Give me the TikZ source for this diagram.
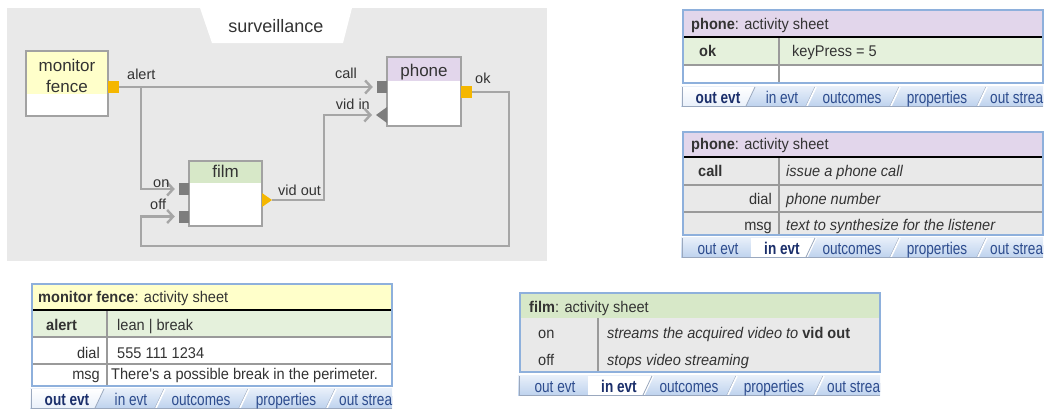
\documentclass[tikz,border=0pt]{standalone}
\usepackage{fontspec}
\setmainfont{Liberation Sans}
\newfontfamily\sheetfont[FakeStretch=0.94]{Liberation Sans}
\newfontfamily\tabfont[FakeStretch=0.8]{Liberation Sans}
\usetikzlibrary{arrows.meta}

\definecolor{panelgray}{HTML}{E9E9E9}
\definecolor{boxgray}{HTML}{A2A2A2}
\definecolor{wiregray}{HTML}{A6A6A6}
\definecolor{portgray}{HTML}{7D7D7D}
\definecolor{portorange}{HTML}{F5B700}
\definecolor{hdryellow}{HTML}{FFFFCA}
\definecolor{hdrpurple}{HTML}{E2D6EB}
\definecolor{hdrgreen}{HTML}{D7E8C8}
\definecolor{rowgreen}{HTML}{E5F1DC}
\definecolor{rowgray}{HTML}{E9E9E9}
\definecolor{sheetblue}{HTML}{8EB0DC}
\definecolor{gridgray}{HTML}{9A9A9A}
\definecolor{tabtop}{HTML}{E9F0FA}
\definecolor{tabbot}{HTML}{BFD3EE}
\definecolor{tabedgecol}{HTML}{9AA8BE}
\definecolor{tabtext}{HTML}{2D4C8E}
\definecolor{tabtextactive}{HTML}{1B2F6B}
\definecolor{textdark}{HTML}{333333}

\tikzset{
  comp/.style 2 args={draw=boxgray, line width=2, fill=white, inner sep=0,
    path picture={\fill[#1] (path picture bounding box.north west)
      rectangle ([yshift=-#2]path picture bounding box.north east);}},
  ctitle/.style={inner sep=0, anchor=base, text=textdark, font=\fontsize{17}{19}\selectfont},
  lbl/.style={inner sep=0, text=textdark, font=\fontsize{14.5}{16}\selectfont},
  port/.style={inner sep=0, draw=none, minimum width=10, minimum height=12},
  inport/.style={port, fill=portgray},
  outport/.style={port, fill=portorange},
  wire/.style={draw=wiregray, line width=2.4, -{Straight Barb[length=6pt,width=13pt]}, shorten >=4pt},
  tapline/.style={draw=wiregray, line width=2.4},
  sheettext/.style={inner sep=0, anchor=base west, text=textdark, font=\sheetfont\fontsize{15.5}{17}\selectfont},
  sheetright/.style={sheettext, anchor=base east},
  sheetframe/.style={draw=sheetblue, line width=2.5},
  gridline/.style={draw=gridgray, line width=1.2},
  hdrline/.style={draw=black, line width=1.5},
  tabtxt/.style={inner sep=0, anchor=base, text=tabtext, font=\tabfont\fontsize{17}{19}\selectfont},
  tabon/.style={tabtxt, text=tabtextactive, font=\tabfont\bfseries\fontsize{17}{19}\selectfont},
  taboff/.style={tabtxt},
  tabsep/.style={draw=white, line width=1.6},
  tabsepdark/.style={draw=tabedgecol, line width=0.8},
  tabedge/.style={draw=tabedgecol, line width=1}
}

% tab strip under an activity sheet: #1 name prefix, #2 left x, #3 top y, #4 active tab
\newcommand\sheettabs[4]{%
  \begin{scope}[shift={(#2,#3)}]
    \ifnum#4=1
      \tikzset{tabfirst/.style={tabon}, tabsecond/.style={taboff}}
    \else
      \tikzset{tabfirst/.style={taboff}, tabsecond/.style={tabon}}
    \fi
    \begin{scope}
      \clip (-3,-1) rectangle (360,22);
      \shade[top color=tabtop, bottom color=tabbot] (-2,0) rectangle (362,20);
      \foreach \s in {128,212,299}{
        \draw[tabsepdark] (\s-5,20) -- (\s+4,1);
        \draw[tabsep] (\s-4,20) -- (\s+5,1);
      }
      \ifnum#4=1
        \shade[top color=white, bottom color=tabtop] (-2,20) -- (-2,1) -- (72,1) -- (63,20) -- cycle;
        \draw[tabsepdark] (63,20) -- (72,1);
      \else
        \draw[tabsepdark] (68,20) -- (68,1);
        \fill[white] (68,20) -- (68,1) -- (132,1) -- (123,20) -- cycle;
        \draw[tabsepdark] (123,20) -- (132,1);
      \fi
      \draw[tabedge] (-1,1) -- (-1,20) -- (360,20);
      \node[tabfirst] (#1-tab1) at (35,17) {out evt};
      \node[tabsecond] (#1-tab2) at (99,17) {in evt};
      \node[taboff] (#1-tab3) at (169,17) {outcomes};
      \node[taboff] (#1-tab4) at (254,17) {properties};
      \node[taboff, anchor=base west] (#1-tab5) at (307,17) {out streams};
    \end{scope}
  \end{scope}}

\begin{document}
\begin{tikzpicture}[x=1pt, y=-1pt]
\useasboundingbox (0,0) rectangle (1050,410);

% ---------- composition panel ----------
\fill[panelgray] (7,8) rectangle (547,261);
\fill[white] (200,8) -- (352,8) -- (343,43) -- (212,43) -- cycle;
\node[inner sep=0, anchor=base, text=textdark, font=\fontsize{18}{20}\selectfont] (panel-title) at (276,32) {surveillance};

% components
\node[comp={hdryellow}{43}, minimum width=82, minimum height=65] (mf) at (67,83.5) {};
\node[ctitle] (mf-t1) at (67,71) {monitor};
\node[ctitle] (mf-t2) at (67,92) {fence};

\node[comp={hdrpurple}{24}, minimum width=74, minimum height=69] (phone) at (424,91.5) {};
\node[ctitle] (phone-t) at (424,76) {phone};

\node[comp={hdrgreen}{22}, minimum width=73, minimum height=65] (film) at (225.5,193.5) {};
\node[ctitle] (film-t) at (225.5,177) {film};

% ports
\node[outport, minimum width=11] (mf-alert) at (113.5,87) {};
\node[inport] (phone-call) at (382,87) {};
\node[outport, minimum width=11] (phone-ok) at (466.5,92) {};
\node[inport] (film-on) at (184,189) {};
\node[inport] (film-off) at (184,216.5) {};
\fill[portgray] (387,107) -- (376,115) -- (387,123) -- cycle;
\coordinate (phone-vidin) at (376,115);
\fill[portorange] (262,193) -- (272,200) -- (262,207) -- cycle;
\coordinate (film-vidout) at (272,200);

% connectors
\coordinate (tap) at (141,87);
\coordinate (vidbend) at (324,200);
\coordinate (loopR) at (509,246);
\coordinate (loopL) at (141,246);
\draw[wire] (mf-alert.east) -- (phone-call.west);
\draw[wire] (tap) |- (film-on.west);
\draw[wire] (film-vidout) -- (vidbend) |- (phone-vidin);
\draw[wire] (phone-ok.east) -| (loopR) -- (loopL) |- (film-off.west);

% port labels
\node[lbl, anchor=base west] (l-alert) at (127,79) {alert};
\node[lbl, anchor=base east] (l-call) at (357,78) {call};
\node[lbl, anchor=base east] (l-vidin) at (370,109) {vid in};
\node[lbl, anchor=base west] (l-ok) at (475,83) {ok};
\node[lbl, anchor=base west] (l-on) at (153,187) {on};
\node[lbl, anchor=base west] (l-off) at (150,209) {off};
\node[lbl, anchor=base west] (l-vidout) at (278,195) {vid out};

% ---------- phone: out evt sheet ----------
\fill[hdrpurple] (683,10) rectangle (1043,37);
\fill[rowgreen] (683,37) rectangle (1043,65);
\fill[white] (683,65) rectangle (1043,83);
\draw[gridline] (683,65) -- (1043,65);
\draw[gridline] (779,37) -- (779,83);
\draw[hdrline] (683,37) -- (1043,37);
\draw[sheetframe] (683,10) rectangle (1043,83);
\node[sheettext] (s1-title) at (691,29) {\textbf{phone}: activity sheet};
\node[sheettext] (s1-ok) at (699,56) {\textbf{ok}};
\node[sheettext] (s1-val) at (792,56) {keyPress = 5};
\sheettabs{s1}{683}{86}{1}

% ---------- phone: in evt sheet ----------
\fill[hdrpurple] (683,132) rectangle (1043,157);
\fill[rowgray] (683,157) rectangle (1043,235);
\draw[gridline] (683,185) -- (1043,185);
\draw[gridline] (683,212) -- (1043,212);
\draw[gridline] (779,157) -- (779,235);
\draw[hdrline] (683,157) -- (1043,157);
\draw[sheetframe] (683,132) rectangle (1043,235);
\node[sheettext] (s2-title) at (691,149) {\textbf{phone}: activity sheet};
\node[sheettext] (s2-call) at (698,176) {\textbf{call}};
\node[sheetright] (s2-dial) at (772,204) {dial};
\node[sheetright] (s2-msg) at (772,230) {msg};
\node[sheettext] (s2-d1) at (786,176) {\itshape issue a phone call};
\node[sheettext] (s2-d2) at (786,204) {\itshape phone number};
\node[sheettext] (s2-d3) at (786,230) {\itshape text to synthesize for the listener};
\sheettabs{s2}{683}{237}{2}

% ---------- monitor fence: out evt sheet ----------
\fill[hdryellow] (32,284) rectangle (392,310);
\fill[rowgreen] (32,310) rectangle (392,337);
\fill[white] (32,337) rectangle (392,386);
\draw[gridline] (32,337) -- (392,337);
\draw[gridline] (32,364) -- (392,364);
\draw[gridline] (107,310) -- (107,386);
\draw[hdrline] (32,310) -- (392,310);
\draw[sheetframe] (32,284) rectangle (392,386);
\node[sheettext] (s3-title) at (38,302) {\textbf{monitor fence}: activity sheet};
\node[sheettext] (s3-alert) at (46,330) {\textbf{alert}};
\node[sheettext] (s3-val) at (117,330) {lean | break};
\node[sheetright] (s3-dial) at (100,358) {dial};
\node[sheettext] (s3-num) at (117,358) {555 111 1234};
\node[sheetright] (s3-msg) at (100,379) {msg};
\node[sheettext] (s3-text) at (111,379) {There's a possible break in the perimeter.};
\sheettabs{s3}{32}{388}{1}

% ---------- film: in evt sheet ----------
\fill[hdrgreen] (520,293) rectangle (880,318);
\fill[rowgray] (520,318) rectangle (880,372);
\draw[gridline] (598,318) -- (598,372);
\draw[sheetframe] (520,293) rectangle (880,372);
\node[sheettext] (s4-title) at (529,312) {\textbf{film}: activity sheet};
\node[sheettext] (s4-on) at (538,338) {on};
\node[sheettext] (s4-off) at (538,365) {off};
\node[sheettext] (s4-d1) at (607,338) {\itshape streams the acquired video to \upshape\bfseries vid out};
\node[sheettext] (s4-d2) at (607,365) {\itshape stops video streaming};
\sheettabs{s4}{520}{375}{2}

\end{tikzpicture}
\end{document}
